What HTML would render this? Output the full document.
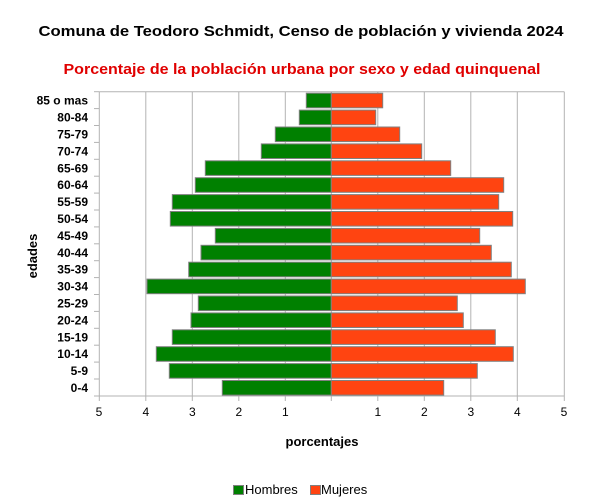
<!DOCTYPE html>
<html><head><meta charset="utf-8"><style>html,body{margin:0;padding:0;background:#fff}svg{display:block}text{font-family:"Liberation Sans",sans-serif}</style></head><body>
<svg width="604" height="500" viewBox="0 0 604 500" xmlns="http://www.w3.org/2000/svg">
<rect width="604" height="500" fill="#fff"/>
<text x="301" y="36" text-anchor="middle" font-size="15" font-weight="bold" fill="#000" textLength="525" lengthAdjust="spacingAndGlyphs">Comuna de Teodoro Schmidt, Censo de población y vivienda 2024</text>
<text x="302" y="74" text-anchor="middle" font-size="15" font-weight="bold" fill="#e00000" textLength="477" lengthAdjust="spacingAndGlyphs">Porcentaje de la población urbana por sexo y edad quinquenal</text>
<g stroke="#b3b3b3" stroke-width="1">
<line x1="99.3" y1="91.7" x2="564.3" y2="91.7"/>
<line x1="99.3" y1="91.7" x2="99.3" y2="401"/>
<line x1="145.8" y1="91.7" x2="145.8" y2="401"/>
<line x1="192.3" y1="91.7" x2="192.3" y2="401"/>
<line x1="238.8" y1="91.7" x2="238.8" y2="401"/>
<line x1="285.3" y1="91.7" x2="285.3" y2="401"/>
<line x1="331.3" y1="91.7" x2="331.3" y2="401"/>
<line x1="377.8" y1="91.7" x2="377.8" y2="401"/>
<line x1="424.3" y1="91.7" x2="424.3" y2="401"/>
<line x1="470.8" y1="91.7" x2="470.8" y2="401"/>
<line x1="517.3" y1="91.7" x2="517.3" y2="401"/>
<line x1="564.3" y1="91.7" x2="564.3" y2="401"/>
<line x1="99.3" y1="396" x2="564.3" y2="396"/>
</g>
<g stroke="#b3b3b3" id="yt"></g>
<g id="bars" stroke="#808080" stroke-width="1"></g>
<g id="labs" font-size="12" font-weight="bold" text-anchor="end" fill="#000"></g>
<g font-size="12" fill="#000" text-anchor="middle">
<text x="99" y="416">5</text><text x="145.8" y="416">4</text><text x="192.3" y="416">3</text><text x="238.8" y="416">2</text><text x="285.3" y="416">1</text>
<text x="377.8" y="416">1</text><text x="424.3" y="416">2</text><text x="470.8" y="416">3</text><text x="517.3" y="416">4</text><text x="564" y="416">5</text>
</g>
<text x="322" y="446" text-anchor="middle" font-size="13" font-weight="bold">porcentajes</text>
<text transform="translate(37,256) rotate(-90)" text-anchor="middle" font-size="13" font-weight="bold">edades</text>
<rect x="233.5" y="485.5" width="10" height="9" fill="#008000" stroke="#808080"/>
<text x="245" y="494" font-size="13">Hombres</text>
<rect x="310.5" y="485.5" width="10" height="9" fill="#ff4411" stroke="#808080"/>
<text x="321" y="494" font-size="13">Mujeres</text>
<script>
var labs=["85 o mas","80-84","75-79","70-74","65-69","60-64","55-59","50-54","45-49","40-44","35-39","30-34","25-29","20-24","15-19","10-14","5-9","0-4"];
var L=[306.3,299.3,275.3,261.3,205.3,195.3,172.3,170.3,215.3,201,188.7,147,198.3,191,172.3,156.3,169.3,222.3];
var R=[382.7,375.7,399.7,421.7,450.7,503.7,498.7,512.7,479.7,491.3,511.3,525.3,457.3,463.3,495.3,513.3,477.3,443.7];
var ns="http://www.w3.org/2000/svg",b=document.getElementById("bars"),t=document.getElementById("labs"),yt=document.getElementById("yt");
var top0=91.7,h=16.9;
function el(n,a,p){var e=document.createElementNS(ns,n);for(var k in a)e.setAttribute(k,a[k]);p.appendChild(e);return e;}
for(var i=0;i<18;i++){var y=top0+i*h;
el("line",{x1:94,x2:99.3,y1:y,y2:y},yt);
el("rect",{x:L[i],y:y+1.5,width:331.3-L[i],height:h-2.3,fill:"#008000"},b);
el("rect",{x:331.3,y:y+1.5,width:R[i]-331.3,height:h-2.3,fill:"#ff4411"},b);
var tx=el("text",{x:88,y:y+h/2+4.5},t);tx.textContent=labs[i];}
el("line",{x1:94,x2:99.3,y1:396,y2:396},yt);
</script>
</svg>
</body></html>
